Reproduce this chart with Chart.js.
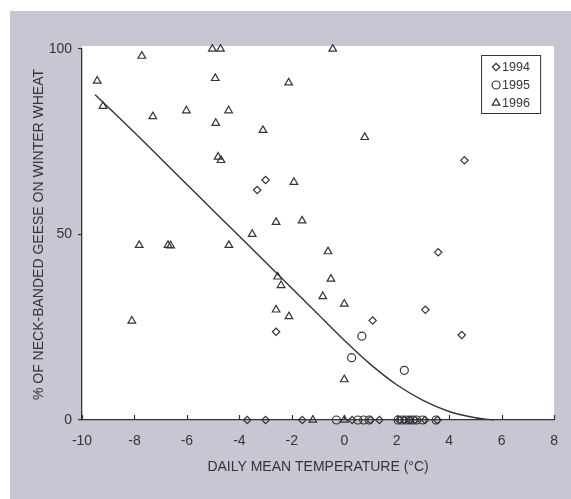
<!DOCTYPE html>
<html>
<head>
<meta charset="utf-8">
<script src="https://cdn.jsdelivr.net/npm/chart.js@4.4.1/dist/chart.umd.min.js"></script>
<style>
  html, body { margin: 0; padding: 0; background: #fff; }
</style>
</head>
<body>
<canvas id="chart" width="571" height="499"></canvas>
<script>
// 1994 - diamonds
const x1994 = [-3.32, -3.0, 4.58, 3.58, 3.09, 1.08, -2.6, 4.48,
               -3.7, -3.0, -1.6, 0.3, 1.0, 1.34, 2.1, 2.3, 2.5, 2.7, 3.08, 3.55];
const y1994 = [62, 64.7, 70, 45.2, 29.7, 26.8, 23.8, 22.9,
               0, 0, 0, 0, 0, 0, 0, 0, 0, 0, 0, 0];

// 1995 - circles
const x1995 = [0.67, 0.28, 2.29,
               -0.3, 0.52, 0.74, 0.95, 2.05, 2.2, 2.35, 2.5, 2.62, 2.76, 2.98, 3.5];
const y1995 = [22.6, 16.8, 13.4,
               0, 0, 0, 0, 0, 0, 0, 0, 0, 0, 0, 0];

// 1996 - triangles
const x1996 = [-9.42, -7.72, -5.03, -4.72, -0.44, -4.92, -2.12, -9.2, -7.3, -6.02,
               -4.41, -4.9, -3.1, 0.78, -4.81, -4.7, -1.92, -2.6, -1.61, -3.51,
               -7.82, -6.72, -6.62, -4.4, -0.62, -2.54, -2.41, -0.51, -0.82, 0,
               -2.6, -2.11, -8.1, 0, -1.2, 0];
const y1996 = [91.4, 98.1, 100, 100, 100, 92.1, 90.9, 84.6, 81.8, 83.4,
               83.4, 80, 78.1, 76.2, 70.9, 70, 64.1, 53.3, 53.7, 50.1,
               47.1, 47.1, 47, 47.1, 45.4, 38.6, 36.3, 38, 33.3, 31.3,
               29.7, 27.9, 26.7, 10.9, 0, 0];

// fitted curve
const fitX = [-9.5, -8, -7, -6, -5, -4, -3, -2, -1, 0, 1, 2, 3, 4, 5, 5.7];
const fitY = [87.7, 77.5, 70.5, 63.5, 56.5, 49.5, 42.5, 35.5, 28.5, 21.5, 15, 9.5, 5.3, 2.3, 0.6, 0];

const xTicks = [-10, -8, -6, -4, -2, 0, 2, 4, 6, 8];
const yTicks = [0, 50, 100];

const ink = '#343434';
const paper = 'rgb(200,198,210)';
const font = '"Liberation Sans", Arial, sans-serif';

const pts = (xs, ys) => xs.map((x, i) => ({ x: x, y: ys[i] }));

const backdrop = {
  id: 'backdrop',
  beforeDraw(chart) {
    const { ctx, chartArea: a } = chart;
    ctx.save();
    ctx.fillStyle = '#fff';
    ctx.fillRect(0, 0, chart.width, chart.height);
    ctx.fillStyle = paper;
    ctx.fillRect(10, 11, chart.width - 10, chart.height - 11);
    ctx.fillStyle = '#fff';
    ctx.fillRect(a.left, a.top - 3, a.right - a.left, a.bottom - a.top + 3);
    ctx.restore();
  }
};

// x ticks point up into the plot
const innerTicks = {
  id: 'innerTicks',
  afterDraw(chart) {
    const { ctx } = chart;
    const xs = chart.scales.x;
    ctx.save();
    ctx.strokeStyle = ink;
    ctx.lineWidth = 1.2;
    xTicks.forEach(v => {
      const px = Math.round(xs.getPixelForValue(v)) + 0.5;
      ctx.beginPath();
      ctx.moveTo(px, xs.top);
      ctx.lineTo(px, xs.top - 5);
      ctx.stroke();
    });
    ctx.restore();
  }
};

// boxed legend in the top right corner
const boxLegend = {
  id: 'boxLegend',
  afterDraw(chart) {
    const { ctx } = chart;
    const a = chart.chartArea;
    const left = a.right - 73, top = 55, w = 59, h = 58;
    ctx.save();
    ctx.strokeStyle = ink;
    ctx.lineWidth = 1;
    ctx.strokeRect(left + 0.5, top + 0.5, w, h);
    ctx.font = '12.5px ' + font;
    ctx.textBaseline = 'middle';
    ctx.fillStyle = ink;
    chart.data.datasets.forEach((ds, i) => {
      if (ds.showLine) return;
      const y = top + 12 + (i - 1) * 18;
      ctx.strokeStyle = ink;
      ctx.fillStyle = 'rgba(0,0,0,0)';
      ctx.lineWidth = 1.2;
      Chart.helpers.drawPoint(ctx, {
        pointStyle: ds.pointStyle, radius: ds.pointRadius, rotation: 0, borderWidth: 1.2
      }, left + 15, y);
      ctx.fillStyle = ink;
      ctx.fillText(ds.label, left + 21, y + 1);
    });
    ctx.restore();
  }
};

new Chart(document.getElementById('chart'), {
  type: 'scatter',
  data: {
    datasets: [
      {
        label: 'fit',
        data: pts(fitX, fitY),
        showLine: true,
        borderColor: ink,
        borderWidth: 1.4,
        pointRadius: 0,
        cubicInterpolationMode: 'monotone',
        clip: false
      },
      {
        label: '1994',
        data: pts(x1994, y1994),
        pointStyle: 'rectRot',
        pointRadius: 3.7,
        borderColor: ink,
        backgroundColor: 'rgba(0,0,0,0)',
        borderWidth: 1.2,
        clip: false
      },
      {
        label: '1995',
        data: pts(x1995, y1995),
        pointStyle: 'circle',
        pointRadius: 4,
        borderColor: ink,
        backgroundColor: 'rgba(0,0,0,0)',
        borderWidth: 1.2,
        clip: false
      },
      {
        label: '1996',
        data: pts(x1996, y1996),
        pointStyle: 'triangle',
        pointRadius: 4.4,
        borderColor: ink,
        backgroundColor: 'rgba(0,0,0,0)',
        borderWidth: 1.2,
        clip: false
      }
    ]
  },
  options: {
    responsive: false,
    animation: false,
    layout: { padding: { left: 0, right: 15, top: 49, bottom: 0 } },
    plugins: {
      legend: { display: false },
      tooltip: { enabled: false }
    },
    scales: {
      x: {
        type: 'linear',
        min: -10,
        max: 8,
        afterBuildTicks: s => { s.ticks = xTicks.map(v => ({ value: v })); },
        afterFit: s => { s.height = 79; },
        ticks: { color: ink, font: { family: font, size: 14 }, padding: 13, maxRotation: 0 },
        grid: { display: false, drawTicks: false },
        border: { display: true, color: ink, width: 1.3 },
        title: {
          display: true,
          text: 'DAILY MEAN TEMPERATURE (°C)',
          color: ink,
          font: { family: font, size: 14 },
          padding: { bottom: 23 }
        }
      },
      y: {
        type: 'linear',
        min: 0,
        max: 100,
        afterBuildTicks: s => { s.ticks = yTicks.map(v => ({ value: v })); },
        afterFit: s => { s.width = 82; },
        ticks: { color: ink, font: { family: font, size: 14 }, padding: 6 },
        grid: { display: true, drawOnChartArea: false, tickLength: 4, color: ink, lineWidth: 1.2 },
        border: { display: true, color: ink, width: 1.3 },
        title: {
          display: true,
          text: '% OF NECK-BANDED GEESE ON WINTER WHEAT',
          color: ink,
          font: { family: font, size: 14 },
          padding: { top: 31 }
        }
      }
    }
  },
  plugins: [backdrop, innerTicks, boxLegend]
});
</script>
</body>
</html>
